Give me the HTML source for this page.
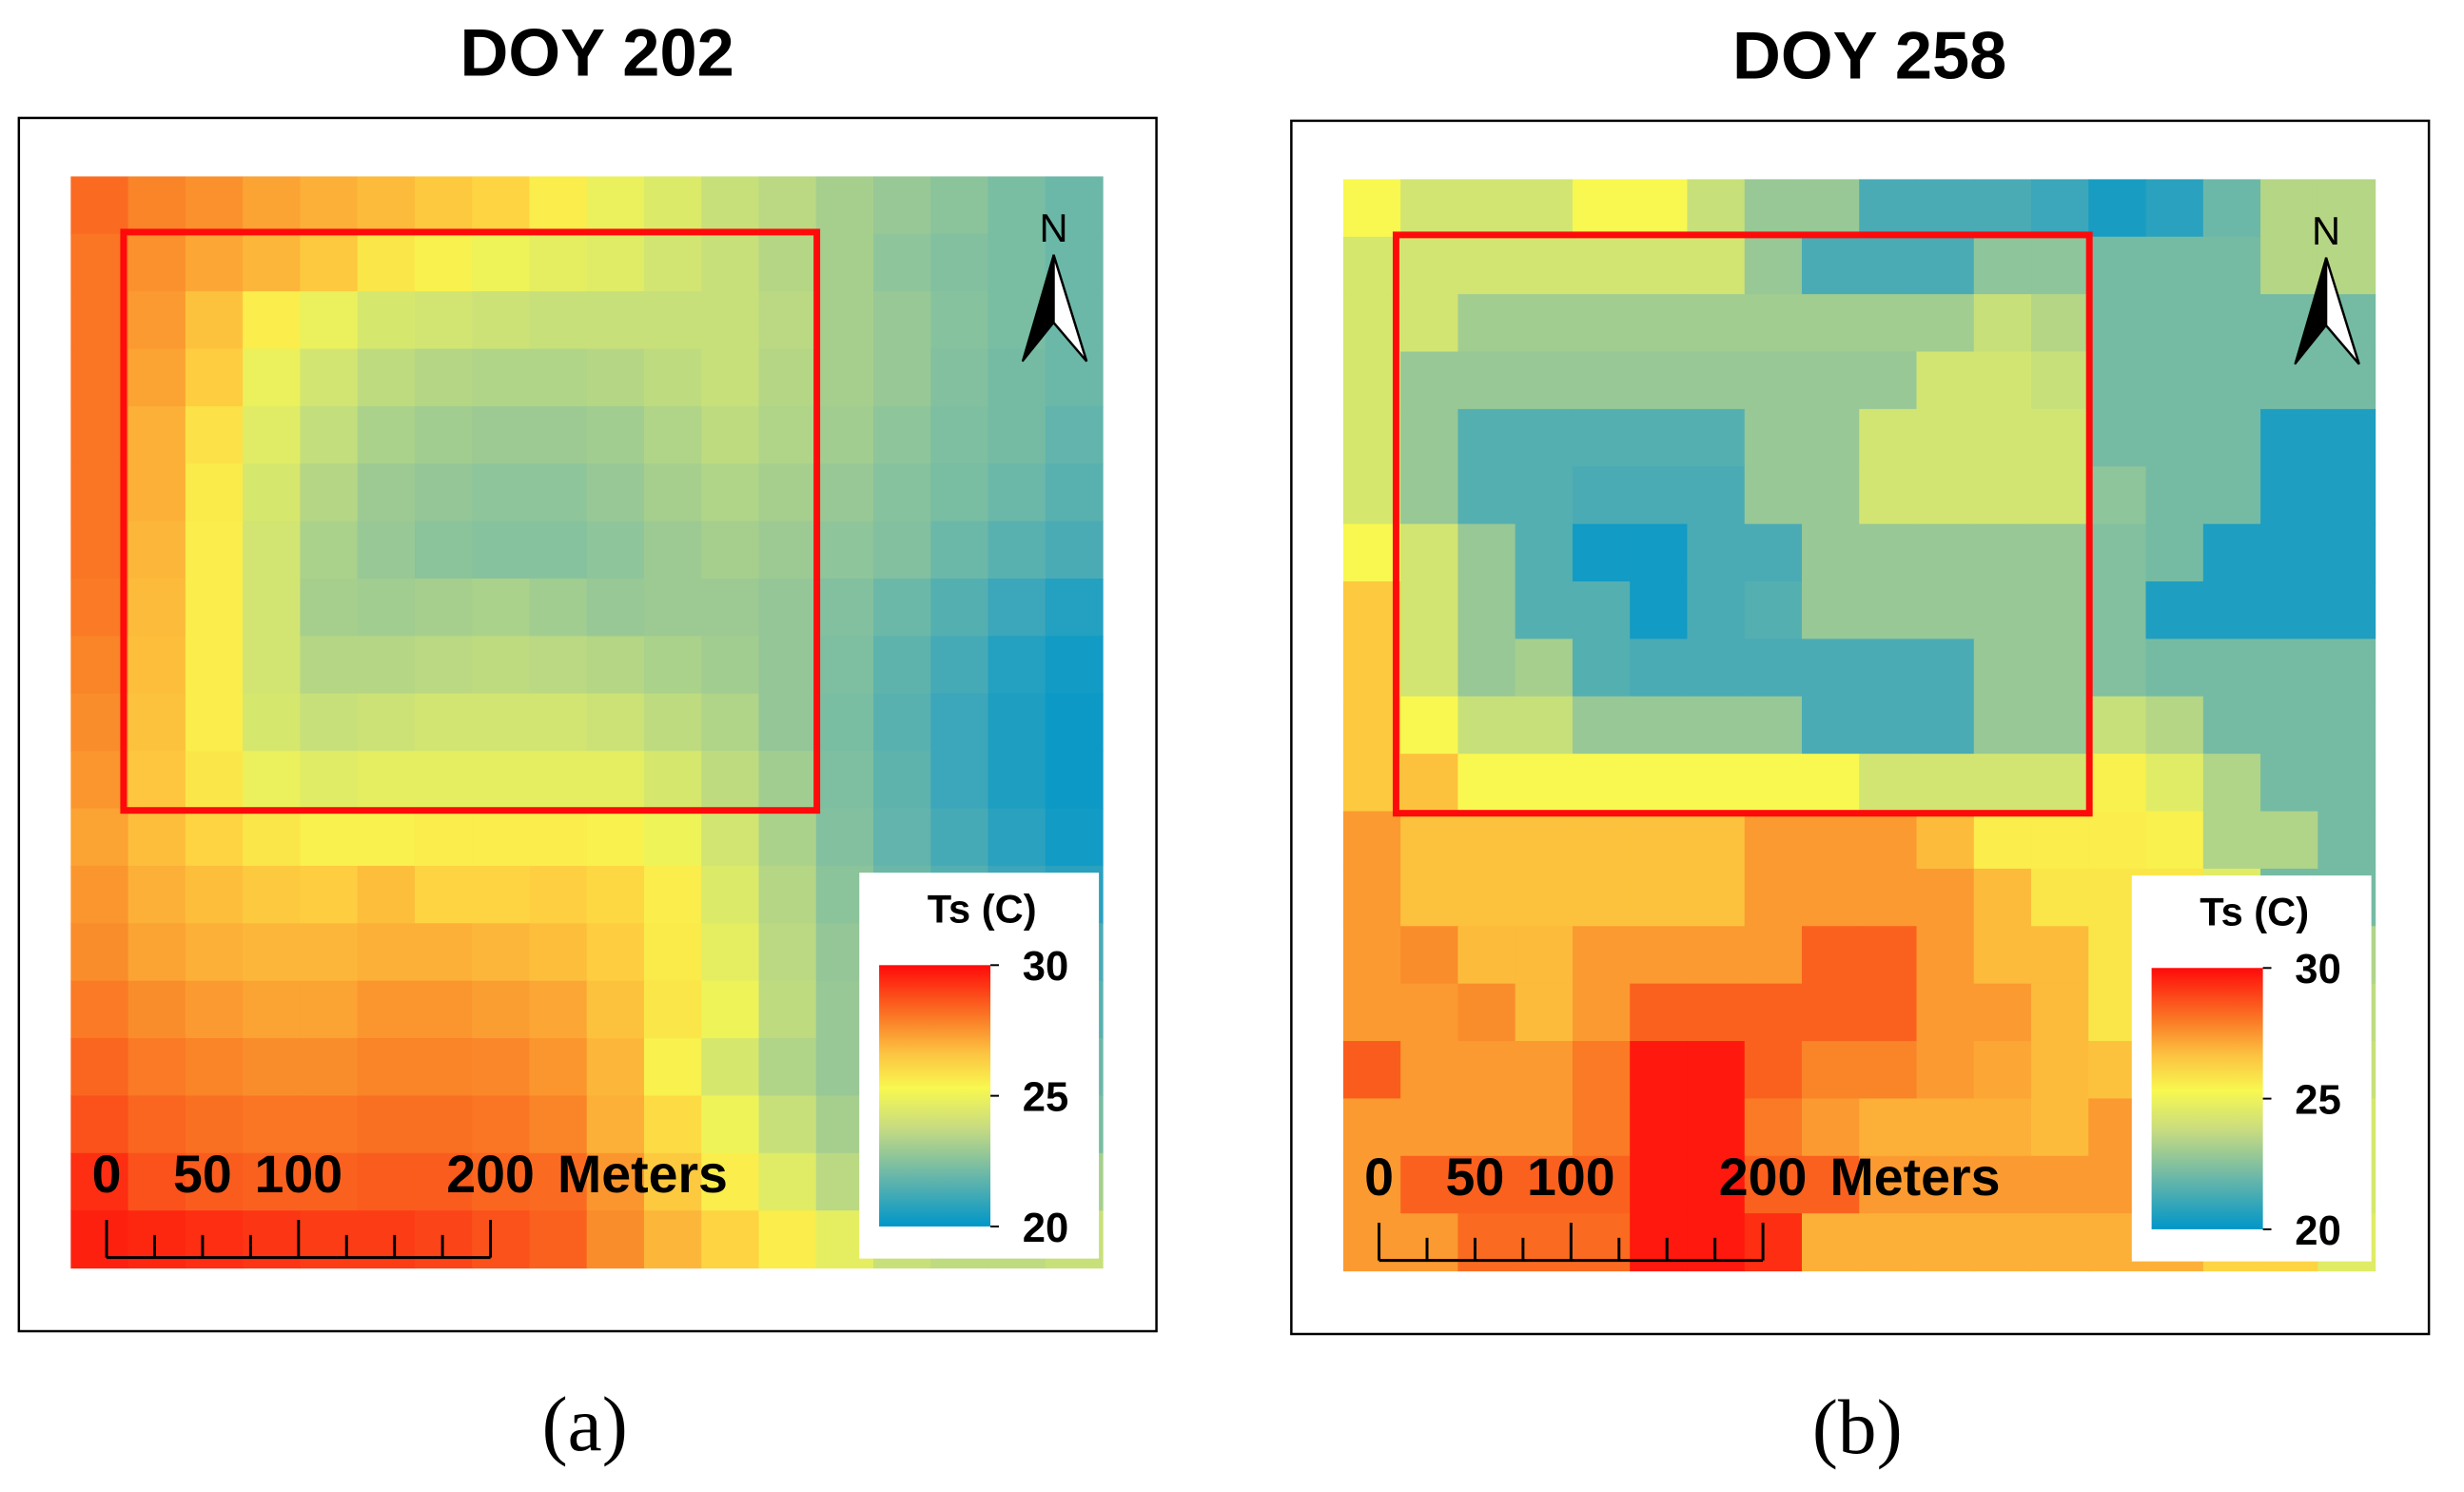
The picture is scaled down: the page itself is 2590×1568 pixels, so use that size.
<!DOCTYPE html>
<html><head><meta charset="utf-8">
<style>
html,body{margin:0;padding:0;background:#fff;}
svg{display:block;}
text{font-family:"Liberation Sans",sans-serif;}
</style></head>
<body>
<svg width="2590" height="1568" viewBox="0 0 2590 1568" xmlns="http://www.w3.org/2000/svg">
<defs>
<linearGradient id="cbar" x1="0" y1="0" x2="0" y2="1">
<stop offset="0" stop-color="#ff0a0a"/>
<stop offset="0.2" stop-color="#fa7a26"/>
<stop offset="0.33" stop-color="#fcc040"/>
<stop offset="0.47" stop-color="#f8f850"/>
<stop offset="0.62" stop-color="#c8dc80"/>
<stop offset="0.8" stop-color="#6cb8a8"/>
<stop offset="1" stop-color="#0096c8"/>
</linearGradient>
</defs>
<g id="fig" transform="scale(0.9915)"></g>
</svg>
<script>
// DOY 202 land surface temperature grid (°C), 19 rows x 18 cols
const doy202Values = [
[28.5,28,27.7,27.3,27,26.7,26.3,26,25.3,24.7,24.4,24,23.7,23.3,23,22.7,22.3,22],
[28.3,27.7,27.2,26.8,26.3,25.5,25.2,24.8,24.6,24.5,24.2,24,23.6,23.3,22.8,22.5,22.3,22],
[28.3,27.5,26.5,25.3,24.7,24.3,24.2,24.1,24,24,24,24,23.7,23.3,23,22.6,22.3,22],
[28.3,27.3,26.2,24.7,24.2,23.8,23.6,23.5,23.5,23.6,23.8,24,23.6,23.3,23,22.5,22.2,22],
[28.3,27,25.6,24.5,23.9,23.4,23.2,23.1,23.1,23.2,23.5,23.8,23.5,23.2,22.8,22.4,22.2,21.8],
[28.3,27,25.4,24.3,23.6,23.1,22.9,22.8,22.8,23,23.3,23.5,23.3,23,22.6,22.3,22,21.6],
[28.3,26.8,25.3,24.2,23.4,23,22.7,22.6,22.6,22.8,23.1,23.3,23.1,22.8,22.5,22,21.6,21.3],
[28.2,26.7,25.3,24.2,23.3,23.2,23.3,23.4,23.2,23,23.1,23.1,22.9,22.5,22,21.5,21,20.6],
[28,26.6,25.3,24.2,23.6,23.6,23.7,23.8,23.7,23.6,23.4,23.2,22.9,22.4,21.7,21.2,20.6,20.3],
[27.8,26.5,25.3,24.3,24,24.1,24.2,24.2,24.2,24.1,23.8,23.5,22.9,22.3,21.6,21,20.5,20.2],
[27.6,26.4,25.5,24.7,24.5,24.6,24.6,24.6,24.6,24.6,24.3,23.8,23.2,22.4,21.7,21,20.5,20.2],
[27.3,26.6,26,25.5,25.2,25.2,25.3,25.3,25.3,25.2,24.8,24.2,23.4,22.5,21.8,21.2,20.7,20.3],
[27.6,27,26.6,26.3,26.2,26.6,26,26,26.1,25.9,25.3,24.4,23.6,22.7,22,21.5,21,20.7],
[27.8,27.3,27,26.8,26.8,27,27,26.8,26.6,26.2,25.4,24.6,23.7,22.9,22.3,21.8,21.5,21.3],
[28.2,27.8,27.5,27.3,27.3,27.6,27.6,27.4,27.2,26.5,25.5,24.8,23.8,23,22.5,22,21.8,21.6],
[28.6,28.2,28,27.8,27.8,28,28,27.9,27.6,26.8,25.2,24.3,23.5,23,22.6,22.2,22,22],
[29,28.6,28.4,28.3,28.3,28.4,28.4,28.3,28,27,25.8,24.8,24,23.3,22.8,22.5,22.3,22.3],
[29.5,29,28.8,28.7,28.7,28.8,28.8,28.6,28.5,27.6,26.3,25.3,24.5,23.7,23.2,22.8,22.8,23.3],
[29.7,29.6,29.5,29.4,29.3,29.3,29.2,29,28.7,27.8,26.8,26,25.3,24.6,24,23.8,23.8,24]
];
// DOY 258 grid
const doy258Values = [
[25,24.2,24.2,24.2,25,25,24,23,23,21.3,21.3,21.3,21,20.4,20.7,22,23.6,23.6],
[24.3,24.2,24.2,24.2,24.2,24.2,24.2,23,21.3,21.3,21.3,22.8,22.8,22.2,22.2,22.2,23.6,23.6],
[24.3,24.2,23.2,23.2,23.2,23.2,23.2,23.2,23.2,23.2,23.2,24,23.6,22.2,22.2,22.2,22.2,22.2],
[24.3,23,23,23,23,23,23,23,23,23,24.2,24.2,24,22.2,22.2,22.2,22.2,22.2],
[24.3,23,21.5,21.5,21.5,21.5,21.5,23,23,24.2,24.2,24.2,24.2,22.2,22.2,22.2,20.5,20.5],
[24.3,23,21.5,21.5,21.3,21.3,21.3,23,23,24.2,24.2,24.2,24.2,22.8,22.2,22.2,20.5,20.5],
[25,24.2,23,21.5,20.3,20.3,21.3,21.3,23,23,23,23,23,22.5,22.2,20.5,20.5,20.5],
[26.3,24.2,23,21.5,21.5,20.3,21.3,21.5,23,23,23,23,23,22.5,20.5,20.5,20.5,20.5],
[26.3,24.2,23,23.3,21.5,21.3,21.3,21.3,21.3,21.3,21.3,23,23,22.5,22.2,22.2,22.2,22.2],
[26.3,25,24,24,23,23,23,23,21.3,21.3,21.3,23,23,24,23.6,22.2,22.2,22.2],
[26.3,26.5,25,25,25,25,25,25,25,24.2,24.2,24.2,24.2,25.2,24.5,23.5,22.2,22.2],
[27.5,26.5,26.5,26.5,26.5,26.5,26.5,27.5,27.5,27.5,26.7,25.3,25.3,25.3,25.2,23.5,23.5,22.2],
[27.5,26.5,26.5,26.5,26.5,26.5,26.5,27.5,27.5,27.5,27.5,26.7,25.5,25.5,25.5,24.5,22.2,22.2],
[27.5,27.8,26.7,26.7,27.5,27.5,27.5,27.5,28.7,28.7,27.5,26.7,26.7,25.5,25,24.5,24,23.5],
[27.5,27.5,27.8,26.7,27.5,28.7,28.7,28.7,28.7,28.7,27.5,27.5,26.7,25.5,25,24.5,24,23.8],
[28.8,27.5,27.5,27.5,28.2,29.8,29.8,28.7,28,28,27.5,27.2,26.7,26.5,25.5,25,24.5,24],
[27.5,27.5,27.5,27.5,28.2,29.8,29.8,28.2,27.5,27,27,27,26.7,27.5,26,25.5,25,24.3],
[27.5,28.7,28.7,28.7,28.7,29.8,29.8,28.7,28.7,27.5,27.5,27.5,27.5,27.5,26.5,25.5,25,24.3],
[27.5,27.5,28.5,28.5,28.5,29.8,29.8,29.5,27,27,27,27,27,27,27,26,26,24.5]
];
const legendTicks = [30, 25, 20];
const scaleLabels = ["0", "50", "100", "200"];
const scaleValues = [0, 50, 100, 200];
const panelTitles = ["DOY 202", "DOY 258"];
const panelLetters = ["(a)", "(b)"];

const NS = "http://www.w3.org/2000/svg";
const svg = document.getElementById("fig");
const stops = [[20,[0,150,200]],[21,[60,166,186]],[22,[108,184,168]],[23,[152,200,150]],[24,[200,224,122]],[25,[248,248,80]],[26,[254,212,66]],[27,[252,176,56]],[28,[250,132,40]],[29,[250,82,26]],[30,[255,10,10]]];
function color(v){
  v=Math.max(20,Math.min(30,v));
  for(let i=0;i<stops.length-1;i++){
    const a=stops[i],b=stops[i+1];
    if(v<=b[0]){const t=(v-a[0])/(b[0]-a[0]);
      const c=a[1].map((x,k)=>Math.round(x+(b[1][k]-x)*t));
      return `rgb(${c[0]},${c[1]},${c[2]})`;}
  }
  return "rgb(255,10,10)";
}
function el(tag, attrs, parent){
  const e=document.createElementNS(NS,tag);
  for(const k in attrs) e.setAttribute(k,attrs[k]);
  parent.appendChild(e); return e;
}
function panel(idx, values, dx, dy){
  const g=el("g",{},svg);
  
  
  const title=el("text",{x:633+dx,y:80+dy,"font-size":71,"font-weight":"bold","text-anchor":"middle",fill:"#000"},g);
  title.textContent=panelTitles[idx];
  
  
  const frame=el("rect",{x:20+dx,y:125+dy,width:1206,height:1286,fill:"none",stroke:"#000","stroke-width":2.5},g);
  
  
  const mx=75+dx,my=187+dy,mw=1094,mh=1157;
  const rows=values.length, cols=values[0].length;
  const cw=mw/cols, ch=mh/rows;
  const xs=c=>mx+c*cw, ys=r=>my+r*ch;
  const grid=el("g",{},g);
  
  
  values.forEach((row,r)=>row.forEach((v,c)=>{
    const cell=el("rect",{x:xs(c).toFixed(2),y:ys(r).toFixed(2),width:(cw+0.6).toFixed(2),height:(ch+0.6).toFixed(2),fill:color(v)},grid);
    
    
  }));
  const box=el("rect",{x:131+dx,y:246+dy,width:735,height:613,fill:"none",stroke:"#ff0a0a","stroke-width":7},g);
  
  
  const na=el("g",{},g);
  
  
  const nt=el("text",{x:1117+dx,y:256+dy,"font-size":42,"text-anchor":"middle",fill:"#000"},na);
  nt.textContent="N";
  el("polygon",{points:`${1117+dx},${270+dy} ${1084+dx},${383+dy} ${1117+dx},${342+dy}`,fill:"#000",stroke:"#000","stroke-width":2},na);
  el("polygon",{points:`${1117+dx},${270+dy} ${1152+dx},${383+dy} ${1117+dx},${342+dy}`,fill:"#fff",stroke:"#000","stroke-width":2.5},na);
  const sb=el("g",{},g);
  
  
  const sx0=113+dx, sx1=520+dx, sy=1333+dy;
  const sxs=m=>sx0+(sx1-sx0)*m/200;
  el("line",{x1:sx0,y1:sy,x2:sx1,y2:sy,stroke:"#000","stroke-width":3},sb);
  for(let i=0;i<=8;i++){
    const m=i*25, major=(m===0||m===100||m===200);
    el("line",{x1:sxs(m),y1:sy,x2:sxs(m),y2:major?sy-40:sy-24,stroke:"#000","stroke-width":3},sb);
  }
  scaleLabels.forEach((s,i)=>{
    const t=el("text",{x:sxs(scaleValues[i]),y:1264+dy,"font-size":56,"font-weight":"bold","text-anchor":"middle",fill:"#000"},sb);
    t.textContent=s;
    
    
  });
  const mt=el("text",{x:591+dx,y:1264+dy,"font-size":56,"font-weight":"bold",fill:"#000"},sb);
  mt.textContent="Meters";
  const lg=el("g",{},g);
  
  
  el("rect",{x:911+dx,y:925+dy,width:254,height:409,fill:"#fff"},lg);
  const lt=el("text",{x:1041+dx,y:978+dy,"font-size":42,"font-weight":"bold","text-anchor":"middle",fill:"#000"},lg);
  lt.textContent="Ts (C)";
  
  
  const by0=1023+dy, by1=1300+dy;
  const bar=el("rect",{x:932+dx,y:by0,width:118,height:by1-by0,fill:"url(#cbar)"},lg);
  
  
  const ly=v=>by0+(30-v)/10*(by1-by0);
  legendTicks.forEach(v=>{
    el("line",{x1:1050+dx,y1:ly(v),x2:1059+dx,y2:ly(v),stroke:"#000","stroke-width":2},lg);
    const t=el("text",{x:1084+dx,y:ly(v)+16,"font-size":44,"font-weight":"bold",fill:"#000"},lg);
    t.textContent=String(v);
    
    
  });
  const cap=el("text",{x:620+dx,y:1537+dy,"font-size":82,"text-anchor":"middle",fill:"#000"},g);
  cap.setAttribute("style","font-family:'Liberation Serif',serif");
  cap.textContent=panelLetters[idx];
  
  
}
panel(0, doy202Values, 0, 0);
panel(1, doy258Values, 1349, 3);
</script>
</body></html>
